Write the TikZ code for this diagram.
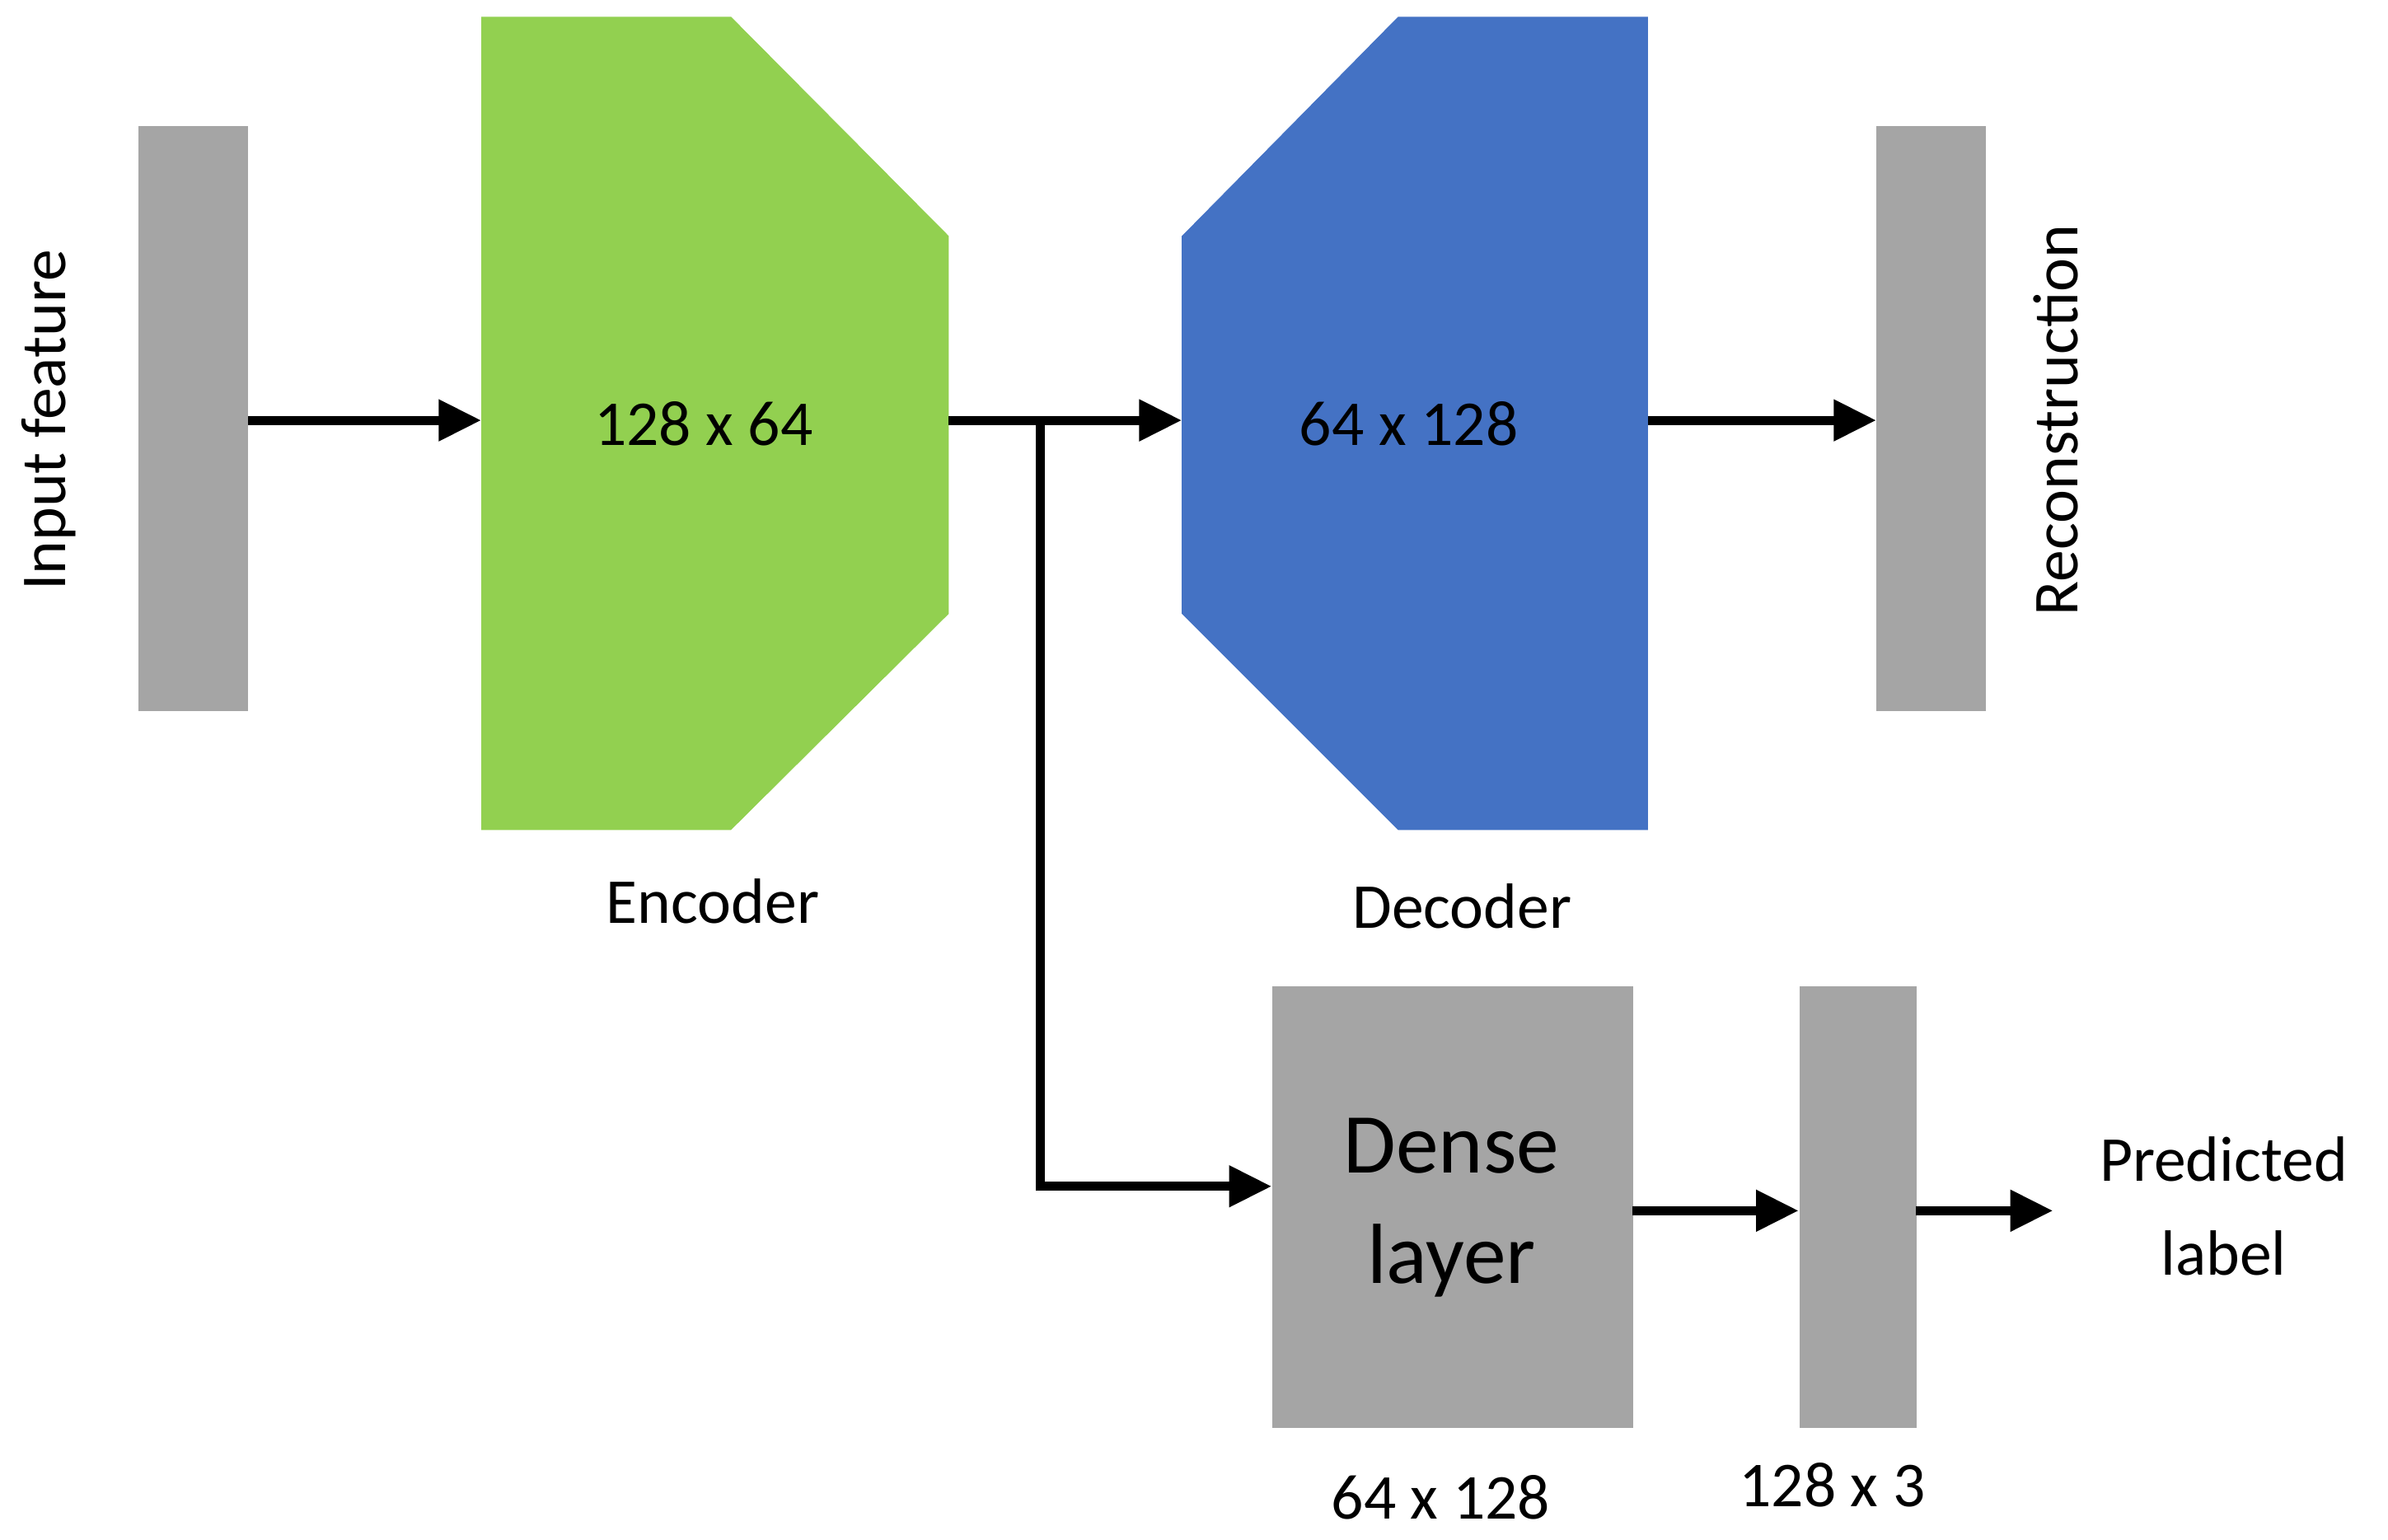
\documentclass[tikz,border=0pt]{standalone}
\usepackage{fontspec}
\setmainfont{Carlito}
\usetikzlibrary{arrows.meta}
\definecolor{bargray}{HTML}{A5A5A5}
\definecolor{encgreen}{HTML}{92D050}
\definecolor{decblue}{HTML}{4472C4}
\begin{document}
\begin{tikzpicture}[x=0.5pt,y=-0.5pt,
  bar/.style={fill=bargray,draw=none},
  arr/.style={line width=3pt,-{Triangle[length=14pt,width=13pt]}},
  lbl/.style={font=\fontsize{21}{25}\selectfont,inner sep=0pt},
  big/.style={font=\fontsize{28}{36}\selectfont,align=center,inner sep=0pt}]
\useasboundingbox (0,0) rectangle (1568,1011);
\fill[bar] (91,83) rectangle (163,467);
\coordinate (inR) at (163,276);
\node[lbl,rotate=90] (inT) at (32,276) {Input feature};
\fill[encgreen] (316,11) -- (480,11) -- (623,155) -- (623,403) -- (480,545) -- (316,545) -- cycle;
\coordinate (encL) at (316,276);
\coordinate (encR) at (623,276);
\node[lbl] (encN) at (462,278) {128 x 64};
\node[lbl] (encT) at (468,592) {Encoder};
\fill[decblue] (918,11) -- (1082,11) -- (1082,545) -- (918,545) -- (776,403) -- (776,155) -- cycle;
\coordinate (decL) at (776,276);
\coordinate (decR) at (1082,276);
\node[lbl] (decN) at (925,278) {64 x 128};
\node[lbl] (decT) at (960,595) {Decoder};
\fill[bar] (1232,83) rectangle (1304,467);
\coordinate (recL) at (1232,276);
\node[lbl,rotate=90] (recT) at (1350,276) {Reconstruction};
\node[bar,minimum width=118.5pt,minimum height=145pt,inner sep=0pt,anchor=north west] (dense) at (835,647) {};
\node[big] (denseT) at (953,793) {Dense\\layer};
\node[lbl] (denseN) at (946,983) {64 x 128};
\node[bar,minimum width=38.5pt,minimum height=145pt,inner sep=0pt,anchor=north west] (small) at (1181,647) {};
\node[lbl] (smallN) at (1203,975) {128 x 3};
\coordinate (branch) at (683,276);
\coordinate (corner) at (683,779);
\coordinate (denseL) at (835,779);
\coordinate (denseR) at (1072,795);
\coordinate (smallL) at (1181,795);
\coordinate (smallR) at (1258,795);
\coordinate (outE) at (1348,795);
\node[lbl,align=center,font=\fontsize{21}{31}\selectfont] (pred) at (1460,792) {Predicted\\label};
\draw[arr] (inR) -- (encL);
\draw[arr] (encR) -- (decL);
\draw[arr] (decR) -- (recL);
\draw[line width=3pt] (branch) -- (corner);
\draw[arr] ([xshift=-1.5pt]corner) -- (denseL);
\draw[arr] (denseR) -- (smallL);
\draw[arr] (smallR) -- (outE);
\end{tikzpicture}
\end{document}
